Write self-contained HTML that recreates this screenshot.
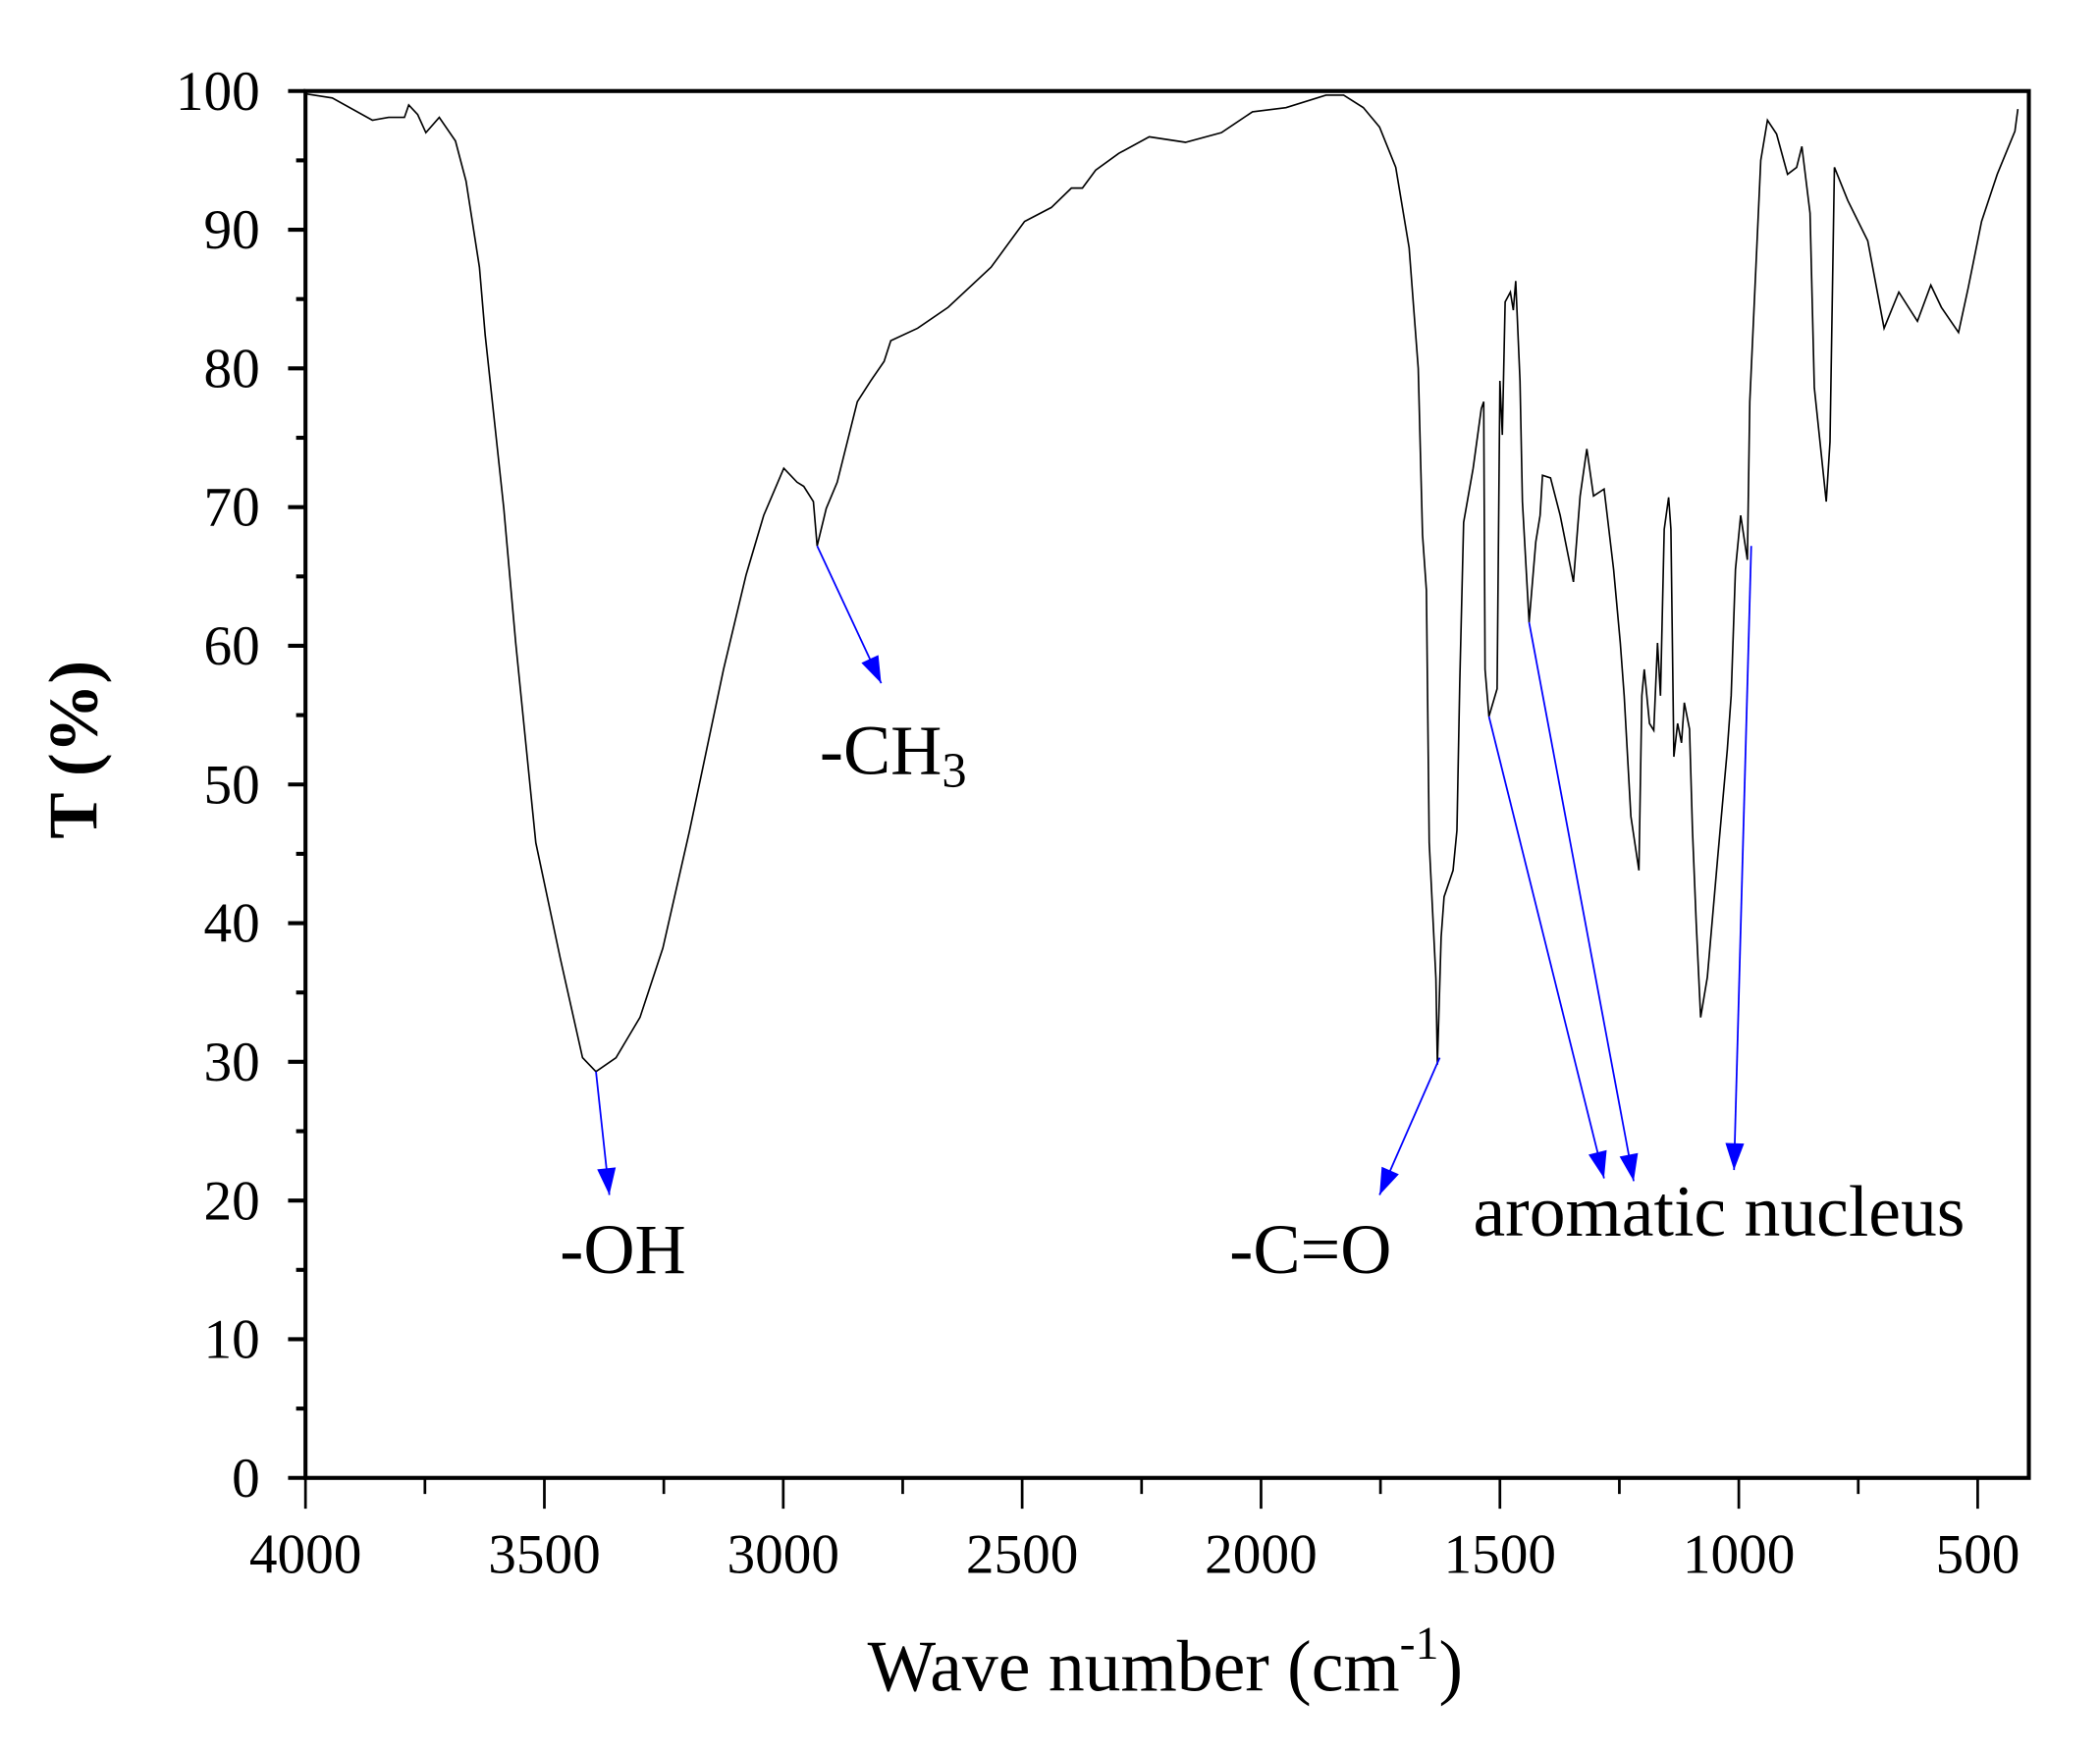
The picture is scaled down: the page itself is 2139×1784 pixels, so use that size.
<!DOCTYPE html>
<html><head><meta charset="utf-8"><style>
html,body{margin:0;padding:0;background:#fff;}
svg{display:block;font-family:"Liberation Serif",serif;}
</style></head><body>
<svg id="chart" width="2139" height="1784" viewBox="0 0 1568 1308" xmlns="http://www.w3.org/2000/svg">
<g id="axes"></g>
<g id="series"></g>
<g id="annotations">
<text x="418" y="951" font-size="53">-OH</text>
<text x="612" y="578" font-size="53">-CH<tspan font-size="37" dy="10">3</tspan></text>
<text x="918" y="951" font-size="53">-C=O</text>
<text x="1100" y="923" font-size="54">aromatic nucleus</text>
</g>
<text transform="translate(72,560) rotate(-90)" text-anchor="middle" font-size="52" font-weight="bold">T (%)</text>
<text x="870" y="1263" text-anchor="middle" font-size="54">Wave number (cm<tspan font-size="35" dy="-24">-1</tspan><tspan dy="24">)</tspan></text>
</svg>
<script>
const wavenumbers=[4000,3944,3860,3826,3793,3784,3765,3748,3720,3686,3664,3636,3624,3585,3560,3518,3467,3420,3392,3350,3300,3252,3196,3125,3078,3041,2999,2971,2957,2937,2929,2910,2887,2845,2817,2789,2775,2719,2655,2565,2495,2439,2397,2374,2346,2298,2234,2158,2083,2018,1948,1864,1827,1786,1752,1718,1690,1671,1662,1654,1648,1634,1631,1623,1617,1598,1590,1584,1576,1556,1539,1534,1531,1523,1506,1500,1495,1489,1478,1472,1467,1458,1453,1439,1425,1416,1411,1394,1374,1346,1332,1318,1304,1282,1262,1248,1240,1226,1209,1203,1198,1187,1178,1170,1164,1156,1147,1142,1136,1128,1120,1114,1103,1097,1089,1080,1066,1044,1024,1016,1007,996,982,977,954,940,921,898,879,868,851,842,817,809,800,772,730,696,665,626,598,576,540,520,492,459,422,416];
const transmittance=[99.8,99.5,97.9,98.1,98.1,99,98.3,97,98.1,96.4,93.5,87.3,82.4,69.9,60.2,45.8,37.5,30.3,29.3,30.3,33.2,38.2,46.7,58.3,65.1,69.4,72.8,71.8,71.5,70.4,67.2,69.9,71.8,77.6,79.1,80.5,82,82.9,84.4,87.3,90.6,91.6,93,93,94.3,95.5,96.7,96.3,97,98.5,98.8,99.7,99.7,98.8,97.4,94.5,88.7,80,68,64,45.8,36,29.8,39,41.9,43.8,46.7,57.3,68.9,72.8,77.1,77.6,58.3,54.9,56.9,79.1,75.2,84.8,85.5,84.2,86.3,79.1,70.4,61.7,67.5,69.4,72.3,72.1,69.4,64.6,70.8,74.2,70.8,71.3,65.5,60.2,56.4,47.7,43.8,56.4,58.3,54.4,53.9,60.2,56.4,68.4,70.7,68.4,52,54.4,53,55.9,54,46.7,40,33.2,36.1,44.8,52.5,56.4,65.5,69.4,66.2,77.6,95,97.9,96.9,94,94.5,96,91.2,78.6,70.4,74.7,94.5,92.1,89.2,82.9,85.5,83.4,86,84.4,82.6,85.8,90.6,94,97.1,98.7];
const xTicks=[4000,3500,3000,2500,2000,1500,1000,500];
const xTickLabels=["4000","3500","3000","2500","2000","1500","1000","500"];
const yTicks=[0,10,20,30,40,50,60,70,80,90,100];
const yTickLabels=["0","10","20","30","40","50","60","70","80","90","100"];
const arrowFrom=[[3392,29.3],[2929,67.2],[1626,30.3],[1523,54.9],[1439,61.7],[974,67.2]];
const arrowTo=[[3364,20.4],[2795,57.3],[1752,20.4],[1282,21.6],[1220,21.4],[1010,22.2]];

const L=228,R=1515,T=68,B=1104;
function X(w){return L+(4000-w)/500*178.4;}
function Y(t){return B-t*10.36;}
const NS="http://www.w3.org/2000/svg";
function mk(tag,attrs,parent){const e=document.createElementNS(NS,tag);for(const k in attrs)e.setAttribute(k,attrs[k]);parent.appendChild(e);return e;}
const ax=document.getElementById('axes');
const frame=mk('rect',{x:L,y:T,width:R-L,height:B-T,fill:'none',stroke:'#000','stroke-width':3},ax);


yTicks.forEach((v,i)=>{
  const t=mk('line',{x1:L-13,x2:L,y1:Y(v),y2:Y(v),stroke:'#000','stroke-width':3},ax);
  
  
  if(i<yTicks.length-1){const m=mk('line',{x1:L-7,x2:L,y1:Y(v+5),y2:Y(v+5),stroke:'#000','stroke-width':3},ax);
  
  }
  const tx=mk('text',{x:L-34,y:Y(v)+14,'text-anchor':'end','font-size':42},ax);
  tx.textContent=yTickLabels[i];
  
  
});
xTicks.forEach((v,i)=>{
  const t=mk('line',{x1:X(v),x2:X(v),y1:B,y2:B+23,stroke:'#000','stroke-width':2},ax);
  
  
  if(v-250>=400){const m=mk('line',{x1:X(v-250),x2:X(v-250),y1:B,y2:B+12,stroke:'#000','stroke-width':2},ax);
  
  }
  const tx=mk('text',{x:X(v),y:1175,'text-anchor':'middle','font-size':42},ax);
  tx.textContent=xTickLabels[i];
  
  
});
const s=document.getElementById('series');
const p=mk('polyline',{points:wavenumbers.map((w,i)=>X(w).toFixed(1)+','+Y(transmittance[i]).toFixed(1)).join(' '),fill:'none',stroke:'#000','stroke-width':1.2},s);


const an=document.getElementById('annotations');
arrowFrom.forEach((f,i)=>{
  const t=arrowTo[i];
  const x1=X(f[0]),y1=Y(f[1]),x2=X(t[0]),y2=Y(t[1]);
  const a=mk('line',{x1:x1,y1:y1,x2:x2,y2:y2,stroke:'#0000ff','stroke-width':1.3},an);
  
  
  const ang=Math.atan2(y2-y1,x2-x1),len=20,w=7;
  const bx=x2-len*Math.cos(ang),by=y2-len*Math.sin(ang);
  const px=-Math.sin(ang)*w,py=Math.cos(ang)*w;
  const h=mk('polygon',{points:`${x2},${y2} ${bx+px},${by+py} ${bx-px},${by-py}`,fill:'#0000ff'},an);
  
  
});
</script>
</body></html>
